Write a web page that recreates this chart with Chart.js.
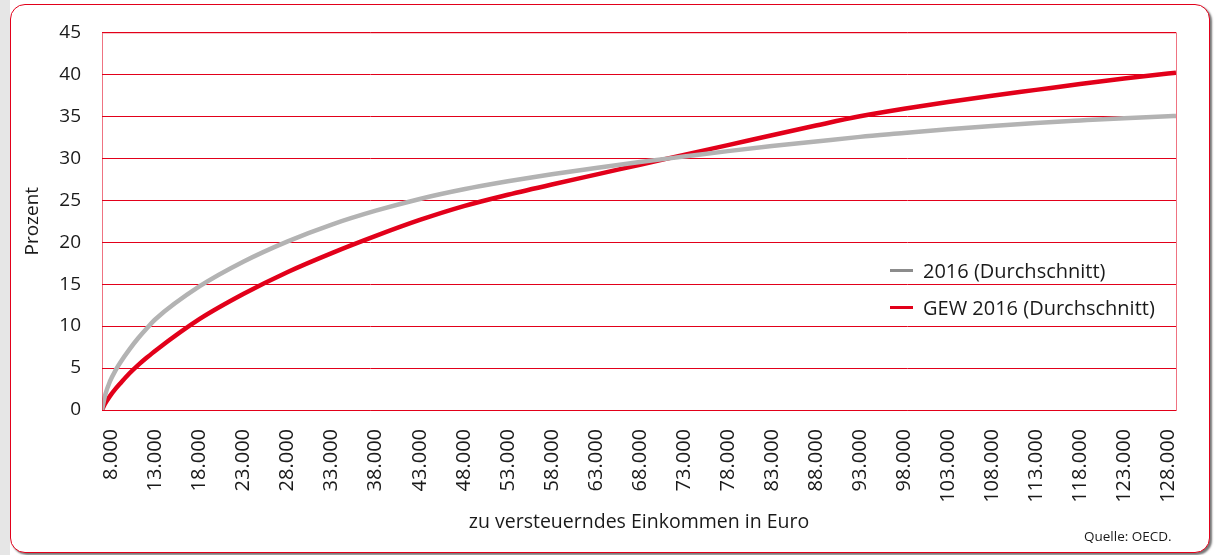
<!DOCTYPE html>
<html lang="de">
<head>
<meta charset="utf-8">
<title>Durchschnittssteuersatz 2016</title>
<script src="https://cdn.jsdelivr.net/npm/chart.js@4.4.1/dist/chart.umd.min.js"></script>
<style>
  body { margin: 0; background: #fff; font-family: 'Open Sans', sans-serif; }
  .strip { position: absolute; left: 0; top: 0; width: 10px; height: 555px; background: #e6e6e6; }
  .card {
    position: absolute; left: 10px; top: 4px; width: 1198px; height: 547px;
    border: 1px solid #e2001a; border-radius: 15px; background: #fff;
    box-shadow: 2px 2px 2px #777;
  }
  #taxChart { position: absolute; left: 0; top: 0; }
  .legend { position: absolute; left: 890px; top: 252px; color: #1a1a1a; font-size: 20px; }
  .legend .item { display: flex; align-items: center; height: 37px; }
  .legend .swatch { width: 23px; height: 3px; margin-right: 10px; }
  .source { position: absolute; left: 1084px; top: 527px; font-size: 13.5px; color: #1a1a1a; }
</style>
</head>
<body>
<div class="strip"></div>
<div class="card"></div>
<canvas id="taxChart" width="1214" height="555"></canvas>
<div class="legend">
  <div class="item"><span class="swatch" style="background:#8c8c8c"></span>2016 (Durchschnitt)</div>
  <div class="item"><span class="swatch" style="background:#e2001a"></span>GEW 2016 (Durchschnitt)</div>
</div>
<div class="source">Quelle: OECD.</div>
<script>
// zu versteuerndes Einkommen (Euro)
const incomes = [6900, 7250, 7800, 8500, 9000, 10000, 11000, 12000, 13000, 18000, 23000, 28000, 33000,
  38000, 43000, 48000, 53000, 58000, 63000, 68000, 73000, 78000, 83000, 88000, 93000, 98000,
  103000, 108000, 113000, 118000, 123000, 128000, 128900];

// Durchschnittssteuersatz in Prozent
const avg2016 = [0, 1.75, 3.4, 4.85, 5.7, 7.2, 8.55, 9.75, 10.85, 14.75, 17.7, 20.1, 22.1,
  23.75, 25.15, 26.3, 27.25, 28.1, 28.85, 29.55, 30.2, 30.85, 31.45, 32.0, 32.55, 33.0,
  33.45, 33.85, 34.2, 34.5, 34.78, 35.0, 35.05];
const gew2016 = [0, 0.75, 1.65, 2.6, 3.2, 4.35, 5.35, 6.25, 7.1, 10.85, 13.85, 16.45, 18.7,
  20.75, 22.65, 24.3, 25.65, 26.88, 28.05, 29.23, 30.4, 31.57, 32.75, 33.9, 35.0, 35.9,
  36.7, 37.45, 38.15, 38.85, 39.5, 40.1, 40.2];

const xTicks = [8000, 13000, 18000, 23000, 28000, 33000, 38000, 43000, 48000, 53000, 58000, 63000,
  68000, 73000, 78000, 83000, 88000, 93000, 98000, 103000, 108000, 113000, 118000, 123000, 128000];

const formatEuro = (v) => String(v).replace(/\B(?=(\d{3})+(?!\d))/g, '.');

const plotFrame = {
  id: 'plotFrame',
  afterDatasetsDraw(chart) {
    const { ctx, chartArea } = chart;
    ctx.save();
    ctx.strokeStyle = 'rgba(226, 0, 26, 0.55)';
    ctx.lineWidth = 1;
    ctx.strokeRect(chartArea.left + 0.5, chartArea.top + 0.5, chartArea.width, chartArea.height);
    ctx.restore();
  }
};

const ctx = document.getElementById('taxChart').getContext('2d');
new Chart(ctx, {
  type: 'line',
  data: {
    datasets: [
      {
        label: '2016 (Durchschnitt)',
        data: incomes.map((x, i) => ({ x: x, y: avg2016[i] })),
        borderColor: '#b3b3b3',
        borderWidth: 4.5,
        pointRadius: 0,
        cubicInterpolationMode: 'monotone',
      },
      {
        label: 'GEW 2016 (Durchschnitt)',
        data: incomes.map((x, i) => ({ x: x, y: gew2016[i] })),
        borderColor: '#e2001a',
        borderWidth: 4.5,
        pointRadius: 0,
        cubicInterpolationMode: 'monotone',
      },
    ],
  },
  options: {
    responsive: false,
    animation: false,
    layout: { padding: { top: 30, right: 38, left: 0, bottom: 0 } },
    plugins: {
      legend: { display: false },
      tooltip: { enabled: false },
    },
    scales: {
      x: {
        type: 'linear',
        min: 6900,
        max: 128900,
        afterBuildTicks: (scale) => { scale.ticks = xTicks.map((v) => ({ value: v })); },
        afterFit: (scale) => { scale.height = 145; },
        grid: { display: false, drawTicks: false },
        border: { display: false },
        ticks: {
          minRotation: 90,
          maxRotation: 90,
          padding: 19,
          color: '#1a1a1a',
          font: { family: 'Open Sans', size: 20 },
          callback: (v) => formatEuro(v),
        },
        title: {
          display: true,
          text: 'zu versteuerndes Einkommen in Euro',
          color: '#1a1a1a',
          font: { family: 'Open Sans', size: 19.5 },
          padding: { bottom: 21 },
        },
      },
      y: {
        min: 0,
        max: 45,
        afterFit: (scale) => { scale.width = 102; },
        grid: { color: '#e2001a', lineWidth: 1, drawTicks: false },
        border: { display: false },
        ticks: {
          stepSize: 5,
          padding: 21,
          color: '#1a1a1a',
          font: { family: 'Open Sans', size: 19 },
        },
        title: {
          display: true,
          text: 'Prozent',
          color: '#1a1a1a',
          font: { family: 'Open Sans', size: 19 },
          padding: { top: 21 },
        },
      },
    },
  },
  plugins: [plotFrame],
});
</script>
</body>
</html>
